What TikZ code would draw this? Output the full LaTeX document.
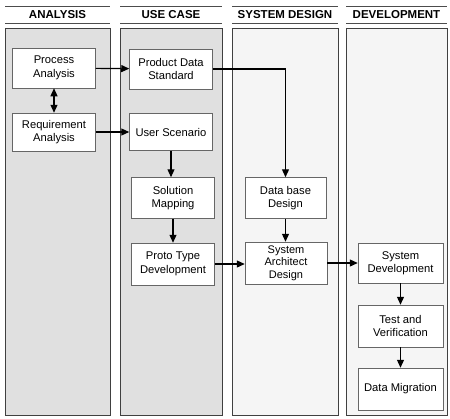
\documentclass[tikz,border=0pt]{standalone}
\usepackage{fontspec}
\setmainfont{Liberation Sans}
\usetikzlibrary{arrows.meta}
\begin{document}
\begin{tikzpicture}[x=1pt,y=-1pt,
  panel/.style={draw=black!75,line width=0.6pt},
  dense/.style={panel,fill=black!12},
  light/.style={panel,fill=black!4},
  hdr/.style={font=\fontsize{11.5}{13}\selectfont\bfseries},
  hline/.style={draw=black!70,line width=0.9pt},
  box/.style={draw=black!60,line width=0.5pt,fill=white,minimum width=83pt,minimum height=40pt,align=center,inner sep=1pt,font=\fontsize{11.2}{13.5}\selectfont},
  arr/.style={line width=1.2pt,-{Triangle[length=8pt,width=7pt]}},
  darr/.style={line width=1.2pt,{Triangle[length=8pt,width=7pt]}-{Triangle[length=8pt,width=7pt]}}]
\useasboundingbox (0,0) rectangle (450,418);
% panels
\path[dense] (5,28) rectangle (110,415);
\path[dense] (120,28) rectangle (222,415);
\path[light] (232,28) rectangle (338,415);
\path[light] (346,28) rectangle (447,415);
% headers
\foreach \l/\r in {5/110,120/222,232/338,346/447}{
  \draw[hline] (\l,6) -- (\r,6);
  \draw[hline] (\l,23) -- (\r,23);
}
\node[hdr] (h1) at (57.5,14.5) {ANALYSIS};
\node[hdr] (h2) at (171,14.5) {USE CASE};
\node[hdr] (h3) at (285,14.5) {SYSTEM DESIGN};
\node[hdr] (h4) at (396.5,14.5) {DEVELOPMENT};
% nodes
\node[box] (pa) at (54,68) {Process\\Analysis};
\node[box,minimum height=38pt] (ra) at (54,132) {Requirement\\Analysis};
\node[box] (pds) at (171,69) {Product Data\\Standard};
\node[box,minimum height=37pt] (us) at (171,132) {User Scenario};
\node[box,minimum height=41pt] (sm) at (173,198) {Solution\\Mapping};
\node[box,minimum height=42pt] (pt) at (173,264) {Proto Type\\Development};
\node[box,minimum width=81pt,minimum height=41pt] (db) at (285.5,198) {Data base\\Design};
\node[box,minimum width=82pt,minimum height=42pt,inner sep=0pt,font=\fontsize{11}{12.6}\selectfont] (sa) at (286,263) {System\\Architect\\Design};
\node[box,minimum width=85pt,minimum height=40pt] (sd) at (400.5,263) {System\\Development};
\node[box,minimum width=85pt,minimum height=42pt] (tv) at (400.5,326) {Test and\\Verification};
\node[box,minimum width=85pt,minimum height=42pt] (dm) at (400.5,389) {Data Migration};
% connectors
\draw[arr] (pa) -- (pds);
\draw[darr] (pa) -- (ra);
\draw[arr] (ra.east) -- (us.west);
\draw[arr] (pds.east) -| (db.north);
\draw[arr] (us) -- (us|-sm.north);
\draw[arr] (sm) -- (sm|-pt.north);
\draw[arr] (pt.east) -- (pt.east-|sa.west);
\draw[arr] (db) -- (db|-sa.north);
\draw[arr] (sa) -- (sd);
\draw[arr] (sd) -- (sd|-tv.north);
\draw[arr] (tv) -- (tv|-dm.north);
\end{tikzpicture}
\end{document}
